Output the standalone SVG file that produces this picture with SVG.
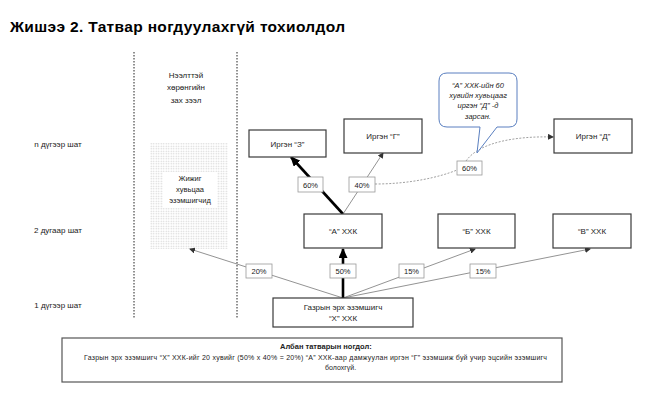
<svg xmlns="http://www.w3.org/2000/svg" width="669" height="412" viewBox="0 0 669 412">
<style>
text{font-family:"Liberation Sans",Arial,sans-serif;fill:#222}
.t{font-size:8px;text-anchor:middle}
.s{font-size:7.5px;text-anchor:middle}
.box{fill:#fff;stroke:#3a3a3a;stroke-width:1.2}
.pct{fill:#fff;stroke:#999;stroke-width:0.8}
.thin{stroke:#777;stroke-width:0.8;fill:none}
.thick{stroke:#000;stroke-width:2.6;fill:none}
.dash{stroke:#888;stroke-width:0.8;fill:none;stroke-dasharray:2,1.5}
.vl{stroke:#222;stroke-width:1;stroke-dasharray:1.5,1.5}
</style>
<defs>
<pattern id="dots" width="2.5" height="2.5" patternUnits="userSpaceOnUse">
<rect width="2.5" height="2.5" fill="#fff"/>
<circle cx="1.25" cy="1.25" r="0.7" fill="#d2d2d2"/>
</pattern>
<marker id="ah" markerWidth="6" markerHeight="6" refX="5" refY="3" orient="auto" markerUnits="userSpaceOnUse">
<path d="M0,0 L6,3 L0,6 Z" fill="#333"/>
</marker>
<marker id="ahk" markerWidth="10" markerHeight="9" refX="9" refY="4.5" orient="auto" markerUnits="userSpaceOnUse">
<path d="M0,0 L10,4.5 L0,9 Z" fill="#000"/>
</marker>
</defs>
<rect width="669" height="412" fill="#fff"/>
<text x="10" y="32" textLength="335" style="font-size:15.5px;font-weight:bold;fill:#000">Жишээ 2. Татвар ногдуулахгүй тохиолдол</text>

<g id="row-labels">
<text x="58" y="147" class="t">n дүгээр шат</text>
<text x="58" y="233" class="t">2 дугаар шат</text>
<text x="58" y="308" class="t">1 дүгээр шат</text>
</g>

<g id="market">
<line x1="134" y1="52" x2="134" y2="318" class="vl"/>
<line x1="237" y1="52" x2="237" y2="318" class="vl"/>
<text x="186" y="78" class="t">Нээлттэй</text>
<text x="186" y="90" class="t">хөрөнгийн</text>
<text x="186" y="103" class="t">зах зээл</text>
</g>

<g id="small-holders">
<rect x="150" y="143" width="78" height="106" fill="url(#dots)"/>
<rect x="163" y="172" width="54" height="36" fill="#fff"/>
<text x="190" y="181" class="s">Жижиг</text>
<text x="190" y="192" class="s">хувьцаа</text>
<text x="190" y="203" class="s">эзэмшигчид</text>
</g>

<g id="connectors">
<line x1="343" y1="298" x2="190" y2="249" class="thin" marker-end="url(#ah)"/>
<line x1="343" y1="298" x2="475" y2="249" class="thin" marker-end="url(#ah)"/>
<line x1="343" y1="298" x2="590" y2="249" class="thin" marker-end="url(#ah)"/>
<line x1="343" y1="298" x2="343" y2="249" class="thick" marker-end="url(#ahk)"/>
<line x1="343" y1="214" x2="291" y2="157" class="thick" marker-end="url(#ahk)"/>
<line x1="343" y1="214" x2="383" y2="153" class="thin" marker-end="url(#ah)"/>
<path d="M375,184 C410,184 440,177 457,170" class="dash"/>
<path d="M466,161 C480,141 520,136 553,137" class="dash" marker-end="url(#ah)"/>
</g>

<g id="pct-labels">
<rect x="298" y="177" width="25" height="15" class="pct"/><text x="310.5" y="187.5" class="s">60%</text>
<rect x="349" y="177" width="26" height="15" class="pct"/><text x="362" y="187.5" class="s">40%</text>
<rect x="457" y="161" width="25" height="14" class="pct"/><text x="469.5" y="171" class="s">60%</text>
<rect x="246" y="264" width="26" height="14" class="pct"/><text x="259" y="274" class="s">20%</text>
<rect x="330" y="264" width="26" height="14" class="pct"/><text x="343" y="274" class="s">50%</text>
<rect x="399" y="264" width="25" height="14" class="pct"/><text x="411.5" y="274" class="s">15%</text>
<rect x="470" y="264" width="26" height="14" class="pct"/><text x="483" y="274" class="s">15%</text>
</g>

<g id="node-z"><rect x="249" y="130" width="77" height="27" class="box"/><text x="287.5" y="146.5" class="t">Иргэн “З”</text></g>
<g id="node-g"><rect x="344" y="119" width="78" height="34" class="box"/><text x="383" y="139" class="t">Иргэн “Г”</text></g>
<g id="node-d"><rect x="554" y="119" width="78" height="34" class="box"/><text x="593" y="139" class="t">Иргэн “Д”</text></g>
<g id="node-a"><rect x="304" y="214" width="78" height="34" class="box"/><text x="343" y="234" class="t">“А” ХХК</text></g>
<g id="node-b"><rect x="438" y="214" width="77" height="34" class="box"/><text x="476.5" y="234" class="t">“Б” ХХК</text></g>
<g id="node-v"><rect x="553" y="214" width="78" height="34" class="box"/><text x="592" y="234" class="t">“В” ХХК</text></g>
<g id="node-x"><rect x="273" y="298" width="140" height="29" class="box"/><text x="343" y="310" class="t">Газрын эрх эзэмшигч</text><text x="343" y="321" class="t">“Х” ХХК</text></g>

<g id="callout">
<path d="M447,73 H509 Q517,73 517,81 V119 Q517,127 509,127 H497 L477,153 L480,127 H447 Q439,127 439,119 V81 Q439,73 447,73 Z" fill="#fff" stroke="#5a7fc0" stroke-width="1"/>
<text x="478" y="88" class="s" font-style="italic">“А” ХХК-ийн 60</text>
<text x="478" y="98" class="s" font-style="italic">хувийн хувьцааг</text>
<text x="478" y="108" class="s" font-style="italic">иргэн “Д” -д</text>
<text x="478" y="119" class="s" font-style="italic">зарсан.</text>
</g>

<g id="note">
<rect x="62" y="338" width="500" height="44" fill="#fff" stroke="#555" stroke-width="1.2"/>
<text x="280" y="349" style="font-size:7.5px;font-weight:bold">Албан татварын ногдол:</text>
<text x="84" y="360" style="font-size:7px" textLength="463">Газрын эрх эзэмшигч  “Х” ХХК-ийг  20 хувийг  (50% х 40% = 20%) “А” ХХК-аар дамжуулан иргэн  “Г” эзэмшиж буй учир эцсийн  эзэмшигч</text>
<text x="325" y="370" style="font-size:7px">болохгүй.</text>
</g>
</svg>
